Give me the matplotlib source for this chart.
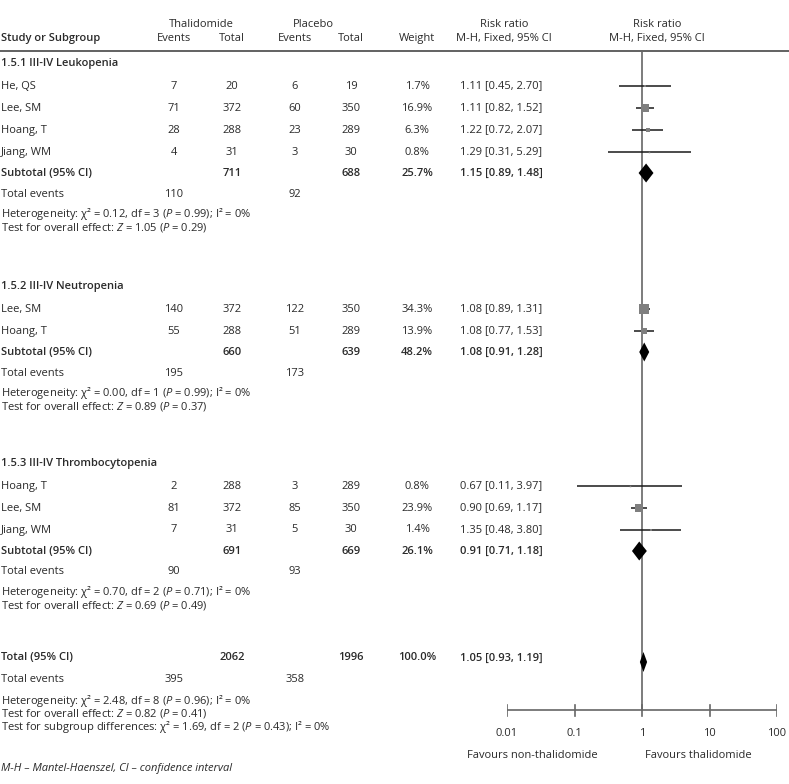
import numpy as np
import matplotlib
matplotlib.use("Agg")
from matplotlib import pyplot as plt

plt.rcParams['font.family'] = ['Open Sans', 'DejaVu Sans']
plt.rcParams['mathtext.fontset'] = 'custom'
plt.rcParams['mathtext.rm'] = 'Open Sans'
plt.rcParams['mathtext.it'] = 'Open Sans:italic'
plt.rcParams['mathtext.bf'] = 'Open Sans:bold'

# ---------------------------------------------------------------- data
group_titles = ["1.5.1 III-IV Leukopenia", "1.5.2 III-IV Neutropenia",
                "1.5.3 III-IV Thrombocytopenia"]

study_group = [0, 0, 0, 0, 1, 1, 2, 2, 2]
study_names = ["He, QS", "Lee, SM", "Hoang, T", "Jiang, WM",
               "Lee, SM", "Hoang, T",
               "Hoang, T", "Lee, SM", "Jiang, WM"]
thal_events = [7, 71, 28, 4, 140, 55, 2, 81, 7]
thal_total = [20, 372, 288, 31, 372, 288, 288, 372, 31]
plac_events = [6, 60, 23, 3, 122, 51, 3, 85, 5]
plac_total = [19, 350, 289, 30, 350, 289, 289, 350, 30]
weights = [1.7, 16.9, 6.3, 0.8, 34.3, 13.9, 0.8, 23.9, 1.4]
rr = [1.11, 1.11, 1.22, 1.29, 1.08, 1.08, 0.67, 0.90, 1.35]
rr_lo = [0.45, 0.82, 0.72, 0.31, 0.89, 0.77, 0.11, 0.69, 0.48]
rr_hi = [2.70, 1.52, 2.07, 5.29, 1.31, 1.53, 3.97, 1.17, 3.80]

sub_thal_total = [711, 660, 691]
sub_plac_total = [688, 639, 669]
sub_weight = [25.7, 48.2, 26.1]
sub_rr = [1.15, 1.08, 0.91]
sub_lo = [0.89, 0.91, 0.71]
sub_hi = [1.48, 1.28, 1.18]
sub_thal_events = [110, 195, 90]
sub_plac_events = [92, 173, 93]
sub_het = [(0.12, 3, 0.99, 0), (0.00, 1, 0.99, 0), (0.70, 2, 0.71, 0)]
sub_z = [(1.05, 0.29), (0.89, 0.37), (0.69, 0.49)]

tot_thal_total = 2062
tot_plac_total = 1996
tot_rr, tot_lo, tot_hi = 1.05, 0.93, 1.19
tot_thal_events = 395
tot_plac_events = 358
tot_het = (2.48, 8, 0.96, 0)
tot_z = (0.82, 0.41)
subgroup_diff = (1.69, 2, 0.43, 0)

axis_ticks = [0.01, 0.1, 1, 10, 100]
axis_labels = ["0.01", "0.1", "1", "10", "100"]

# ---------------------------------------------------------------- layout
W, H = 789, 784
fs = 8
tc = '#2a2a2a'
x_name = 1
x_te, x_tt, x_pe, x_pt = 174, 232, 295, 351
x_w, x_rr = 417, 501
x_hdr2 = 657

fig = plt.figure(figsize=(W / 100, H / 100), dpi=100)
ax = fig.add_axes([0, 0, 1, 1])
ax.set_xlim(0, W)
ax.set_ylim(H, 0)
ax.axis('off')

axf = fig.add_axes([507 / W, 0, 270 / W, 1])
axf.set_xscale('log')
axf.set_xlim(0.01, 100)
axf.set_ylim(H, 0)
axf.axis('off')
axf.patch.set_alpha(0)


def txt(x, y, s, ha='left', bold=False, **kw):
    ax.text(x, y, s, ha=ha, va='center', fontsize=fs, color=tc,
            fontweight='semibold' if bold else 'normal', **kw)


def het_str(h):
    return ("Heterogeneity: χ² = %.2f, df = %d ($\\mathit{P}$ = %.2f); I² = %d%%"
            % h)


def z_str(z):
    return "Test for overall effect: $\\mathit{Z}$ = %.2f ($\\mathit{P}$ = %.2f)" % z


# header
txt(201, 24, "Thalidomide", ha='center')
txt(313, 24, "Placebo", ha='center')
txt(x_rr + 3, 24, "Risk ratio", ha='center')
txt(x_hdr2, 24, "Risk ratio", ha='center')
txt(x_name, 38, "Study or Subgroup", bold=True)
txt(x_te, 38, "Events", ha='center')
txt(x_tt, 38, "Total", ha='center')
txt(x_pe, 38, "Events", ha='center')
txt(x_pt, 38, "Total", ha='center')
txt(x_w, 38, "Weight", ha='center')
txt(x_rr + 3, 38, "M-H, Fixed, 95% CI", ha='center')
txt(x_hdr2, 38, "M-H, Fixed, 95% CI", ha='center')
ax.plot([0, W], [51, 51], color='#555555', lw=1.3)

row = 22
sec_start = [63, 286, 463]
for g in range(3):
    y = sec_start[g]
    txt(x_name, y, group_titles[g], bold=True)
    y += 23
    for i in range(len(study_names)):
        if study_group[i] != g:
            continue
        txt(x_name, y, study_names[i])
        txt(x_te, y, str(thal_events[i]), ha='center')
        txt(x_tt, y, str(thal_total[i]), ha='center')
        txt(x_pe, y, str(plac_events[i]), ha='center')
        txt(x_pt, y, str(plac_total[i]), ha='center')
        txt(x_w, y, "%.1f%%" % weights[i], ha='center')
        txt(x_rr, y, "%.2f [%.2f, %.2f]" % (rr[i], rr_lo[i], rr_hi[i]), ha='center')
        axf.plot([rr_lo[i], rr_hi[i]], [y, y], color='#1a1a1a', lw=1.1,
                 solid_capstyle='butt', zorder=3)
        side = 10 * np.sqrt(weights[i] / 34.3)
        axf.plot(rr[i], y, marker='s', ms=side * 0.72, color='#7f7f7f',
                 mew=0, zorder=4)
        y += row
    y -= 1
    txt(x_name, y, "Subtotal (95% CI)", bold=True)
    txt(x_tt, y, str(sub_thal_total[g]), ha='center', bold=True)
    txt(x_pt, y, str(sub_plac_total[g]), ha='center', bold=True)
    txt(x_w, y, "%.1f%%" % sub_weight[g], ha='center', bold=True)
    txt(x_rr, y, "%.2f [%.2f, %.2f]" % (sub_rr[g], sub_lo[g], sub_hi[g]),
        ha='center', bold=True)
    axf.fill([sub_lo[g], sub_rr[g], sub_hi[g], sub_rr[g]],
             [y, y - 9.5, y, y + 9.5], color='black', lw=0, zorder=4)
    y += 21
    txt(x_name, y, "Total events")
    txt(x_te, y, str(sub_thal_events[g]), ha='center')
    txt(x_pe, y, str(sub_plac_events[g]), ha='center')
    y += 20
    txt(x_name, y, het_str(sub_het[g]))
    y += 13
    txt(x_name, y, z_str(sub_z[g]))

# overall
y = 658
txt(x_name, y, "Total (95% CI)", bold=True)
txt(x_tt, y, str(tot_thal_total), ha='center', bold=True)
txt(x_pt, y, str(tot_plac_total), ha='center', bold=True)
txt(x_w, y, "%.1f%%" % sum(sub_weight), ha='center', bold=True)
txt(x_rr, y, "%.2f [%.2f, %.2f]" % (tot_rr, tot_lo, tot_hi), ha='center', bold=True)
axf.fill([tot_lo, tot_rr, tot_hi, tot_rr], [y + 4, y + 4 - 10, y + 4, y + 4 + 10],
         color='black', lw=0, zorder=4)
txt(x_name, 680, "Total events")
txt(x_te, 680, str(tot_thal_events), ha='center')
txt(x_pe, 680, str(tot_plac_events), ha='center')
txt(x_name, 701, het_str(tot_het))
txt(x_name, 714, z_str(tot_z))
txt(x_name, 727, "Test for subgroup differences: χ² = %.2f, df = %d "
    "($\\mathit{P}$ = %.2f); I² = %d%%" % subgroup_diff)
txt(x_name, 768, "M-H – Mantel-Haenszel, CI – confidence interval", style='italic')

# forest axis
axf.plot([1, 1], [51, 710], color='#666666', lw=1.2, zorder=2)
axf.plot([axis_ticks[0], axis_ticks[-1]], [710, 710], color='#666666', lw=1.2)
for t, lab in zip(axis_ticks, axis_labels):
    axf.plot([t, t], [704.5, 716], color='#666666', lw=1.2)
    axf.text(t, 733, lab, ha='center', va='center', fontsize=fs, color=tc)
ax.text(532, 755, "Favours non-thalidomide", ha='center', va='center',
        fontsize=fs, color=tc)
ax.text(698, 755, "Favours thalidomide", ha='center', va='center',
        fontsize=fs, color=tc)

plt.savefig("out.png", dpi=100)
